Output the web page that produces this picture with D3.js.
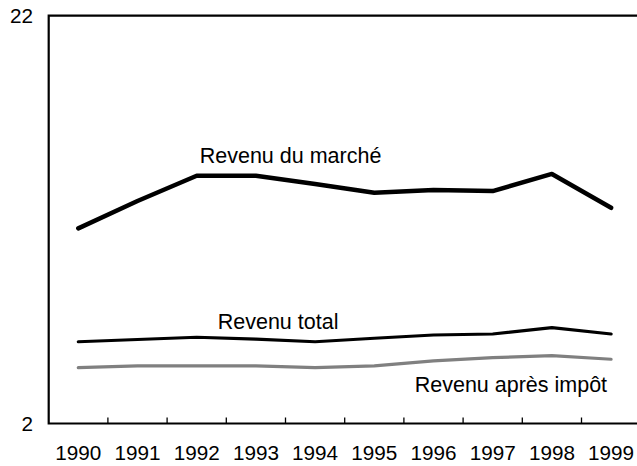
<!DOCTYPE html>
<html>
<head>
<meta charset="utf-8">
<script src="https://cdnjs.cloudflare.com/ajax/libs/d3/7.8.5/d3.min.js"></script>
<style>
	body { margin: 0; background: #fff; }
	text { font-family: "Liberation Sans", Arial, sans-serif; fill: #000; font-size: 20.7px; }
	text.series-label { font-size: 21.5px; }
</style>
</head>
<body>
<svg id="chart" width="637" height="466"></svg>
<script>

var aYears = ['1990','1991','1992','1993','1994','1995','1996','1997','1998','1999'];
var aMarket = [11.57, 12.91, 14.15, 14.15, 13.75, 13.32, 13.45, 13.40, 14.24, 12.58];
var aTotal = [6.01, 6.12, 6.23, 6.14, 6.01, 6.18, 6.34, 6.39, 6.70, 6.39];
var aAfterTax = [4.74, 4.83, 4.83, 4.83, 4.74, 4.83, 5.07, 5.23, 5.33, 5.15];
var aYTicks = [2, 22];

var aSeries = [
	{ name: 'Revenu du marché', values: aMarket, color: '#000', width: 4.5 },
	{ name: 'Revenu total', values: aTotal, color: '#000', width: 3.2 },
	{ name: 'Revenu après impôt', values: aAfterTax, color: '#808080', width: 3.2 }
];

var sSvg = d3.select('#chart');

var nLeft = 48.7;
var nStep = 59.2;
var nTop = 15.7;
var nBottom = 423.5;

var scaleX = d3.scaleBand()
	.domain(aYears)
	.range([nLeft, nLeft + nStep*aYears.length])
	.padding(0);

var scaleY = d3.scaleLinear()
	.domain([2, 22])
	.range([nBottom, nTop]);

function XMid(strYear)
{
	return scaleX(strYear) + scaleX.bandwidth()/2;
}

// frame: left axis, bottom axis, top border
var nRight = scaleX.range()[1];
sSvg.append('path')
	.attr('d', 'M' + nRight + ',' + scaleY(22) + 'H' + nLeft + 'V' + scaleY(2) + 'H' + nRight)
	.attr('fill', 'none')
	.attr('stroke', '#000')
	.attr('stroke-width', 2.2);

// category ticks between years
sSvg.selectAll('.tick-x')
	.data(aYears.slice(1))
	.enter()
		.append('line')
			.attr('class', 'tick-x')
			.attr('x1', function(d) { return scaleX(d); })
			.attr('x2', function(d) { return scaleX(d); })
			.attr('y1', scaleY(2))
			.attr('y2', scaleY(2) - 6)
			.attr('stroke', '#000')
			.attr('stroke-width', 1.3);

sSvg.selectAll('.label-x')
	.data(aYears)
	.enter()
		.append('text')
			.attr('class', 'label-x')
			.attr('x', function(d) { return XMid(d); })
			.attr('y', scaleY(2) + 36)
			.attr('text-anchor', 'middle')
			.text(function(d) { return d; });

sSvg.selectAll('.label-y')
	.data(aYTicks)
	.enter()
		.append('text')
			.attr('class', 'label-y')
			.attr('x', 33)
			.attr('y', function(d) { return scaleY(d) + 7.5; })
			.attr('text-anchor', 'end')
			.text(function(d) { return d; });

var line = d3.line()
	.x(function(d, i) { return XMid(aYears[i]); })
	.y(function(d) { return scaleY(d); });

sSvg.selectAll('.series')
	.data(aSeries)
	.enter()
		.append('path')
			.attr('class', 'series')
			.attr('d', function(s) { return line(s.values); })
			.attr('fill', 'none')
			.attr('stroke', function(s) { return s.color; })
			.attr('stroke-width', function(s) { return s.width; })
			.attr('stroke-linejoin', 'round')
			.attr('stroke-linecap', 'round');

// series labels
sSvg.append('text')
	.attr('class', 'series-label')
	.attr('x', XMid('1992') + 3)
	.attr('y', scaleY(aMarket[2]) - 13)
	.text(aSeries[0].name);

sSvg.append('text')
	.attr('class', 'series-label')
	.attr('x', XMid('1992') + 21)
	.attr('y', scaleY(aTotal[2]) - 8)
	.text(aSeries[1].name);

sSvg.append('text')
	.attr('class', 'series-label')
	.attr('x', XMid('1997') - 78)
	.attr('y', scaleY(aAfterTax[7]) + 34)
	.text(aSeries[2].name);

</script>
</body>
</html>
